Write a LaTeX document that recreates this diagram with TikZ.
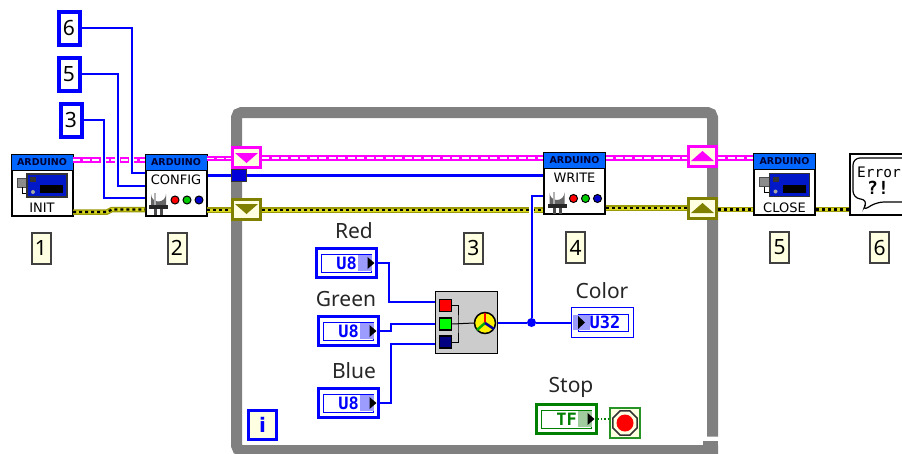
\documentclass[tikz,border=0pt]{standalone}
\usepackage{fontspec}
\setmainfont{Noto Sans}
\newfontfamily\vifont{DejaVu Sans}
\newfontfamily\monofont{DejaVu Sans Mono}
\usetikzlibrary{calc,shapes.geometric}

\definecolor{loopgray}{HTML}{808080}
\definecolor{cream}{HTML}{FFFFE1}
\definecolor{errolive}{HTML}{808000}
\definecolor{erryellow}{HTML}{D8D820}
\definecolor{headblue}{HTML}{0066FF}
\definecolor{boardblue}{HTML}{0018C8}
\definecolor{shadeblue}{HTML}{9C9CFF}
\definecolor{shadegreen}{HTML}{A0CCA0}
\definecolor{boolgreen}{HTML}{008000}
\definecolor{clusterpink}{HTML}{FF00FF}
\definecolor{wireblue}{HTML}{0000FF}

\tikzstyle{vibox}= [rectangle,draw=black,line width=2pt,fill=white,minimum width=61pt,minimum height=61pt,inner sep=0pt]
\tikzstyle{vihead}= [rectangle,draw=black,line width=1pt,fill=headblue,minimum width=62pt,minimum height=16pt,inner sep=0pt,text=black!80!blue,font={\vifont\bfseries\fontsize{9.5}{10}\selectfont}]
\tikzstyle{vilabel}= [inner sep=0pt,text=black,font={\vifont\fontsize{13}{14}\selectfont}]
\tikzstyle{number}= [rectangle,draw=black!75,line width=2pt,fill=cream,minimum width=19pt,minimum height=31pt,inner sep=0pt,font=\fontsize{21}{24}\selectfont]
\tikzstyle{constant}= [rectangle,draw=wireblue,line width=4pt,fill=white,minimum width=21pt,minimum height=33pt,inner sep=0pt,font=\fontsize{21}{24}\selectfont]
\tikzstyle{title}= [inner sep=0pt,text=black!85,font=\fontsize{21}{24}\selectfont]
\tikzstyle{pinkreg}= [rectangle,draw=clusterpink,line width=3pt,fill=cream,minimum width=28pt,minimum height=20pt,inner sep=0pt]
\tikzstyle{olivereg}= [rectangle,draw=errolive,line width=3pt,fill=cream,minimum width=28pt,minimum height=20pt,inner sep=0pt]
\tikzstyle{wire}= [wireblue,line width=2pt,preaction={draw,white,line width=5.5pt}]
\tikzstyle{busw}= [wireblue,line width=3pt]
\tikzstyle{pinkw}= [clusterpink,line width=5.5pt,postaction={draw,white,line width=1.8pt,dash pattern=on 7pt off 2.5pt}]
\tikzstyle{errw}= [errolive!70!erryellow,line width=5.5pt,postaction={draw,erryellow,line width=3pt},postaction={draw,black,line width=2.4pt,dash pattern=on 3pt off 3pt}]
\tikzstyle{swatch}= [rectangle,draw=black,line width=1.5pt,minimum width=12pt,minimum height=12pt,inner sep=0pt]

\tikzset{
	control/.style 2 args={rectangle,draw=#1,line width=3pt,fill=white,minimum width=60pt,minimum height=29pt,inner sep=0pt,text=#1,
		font={\monofont\bfseries\fontsize{17}{18}\selectfont},
		path picture={
			\draw[#1,line width=1pt] ([shift={(-25,-9)}]path picture bounding box.center) rectangle ([shift={(25,9)}]path picture bounding box.center);
			\fill[#2] ([shift={(11,-8)}]path picture bounding box.center) rectangle ([shift={(25,8)}]path picture bounding box.center);
			\fill[black] ([shift={(21,-6)}]path picture bounding box.center) -- ([shift={(28,0)}]path picture bounding box.center) -- ([shift={(21,6)}]path picture bounding box.center) -- cycle;
		}},
}

% header strip of an Arduino block
\newcommand{\vihead}[1]{\node (#1head) at ($(#1.north)+(0,8.5)$) [vihead] {ARDUINO};}
% board picture, around a block centre
\newcommand{\boardicon}[1]{
	\begin{scope}[shift={(#1.center)}]
		\draw[black!70,fill=black!45,line width=1pt] (-25,-7) rectangle (-15,2);
		\draw[black,line width=1pt] (-20,2) -- (-20,8) -- (-15,8);
		\draw[black!80,fill=boardblue,line width=1.5pt] (-15,-11) rectangle (25,12);
		\fill[black] (-2,0) rectangle (21,8);
		\fill[black!80] (-12,-8) rectangle (-6,-3);
		\fill[black!35] (-9,7) circle (2);
	\end{scope}}
% lamp and three dots, around a block centre
\newcommand{\ledicon}[1]{
	\begin{scope}[shift={(#1.center)}]
		\fill[black!60] (-25,22) -- (-25,9) arc[start angle=180,end angle=0,radius=7.5] -- (-10,22) -- cycle;
		\fill[black!30] (-22,20) rectangle (-20,8);
		\fill[black!85] (-27,20) rectangle (-8,24);
		\fill[black!70] (-22,24) rectangle (-19,30);
		\fill[black!70] (-16,24) rectangle (-13,30);
		\draw[black,fill=red,line width=1pt] (-1,15) circle (4);
		\draw[black,fill=green!80!black,line width=1pt] (11,15) circle (4);
		\draw[black,fill=wireblue!80!black,line width=1pt] (23,15) circle (4);
	\end{scope}}

\begin{document}
\begin{tikzpicture}[x=1pt,y=-1pt]
		\useasboundingbox (0,0) rectangle (902,453);
		\clip (0,0) rectangle (902,453);

		% loop frame
		\draw[loopgray,line width=11pt,rounded corners=5pt] (712.5,436.5) -- (712.5,112.5) -- (236.5,112.5) -- (236.5,450.5) -- (718,450.5);
		\fill[loopgray] (703,441) rectangle (718,446);

		% blocks
		\node (init) at (42,185) [vibox] {};
		\node (config) at (176,185) [vibox] {};
		\node (write) at (574.5,183.5) [vibox] {};
		\node (close) at (784.5,184.5) [vibox] {};
		\node (error) at (880.5,184.5) [vibox] {};
		\vihead{init}
		\vihead{config}
		\vihead{write}
		\vihead{close}
		\boardicon{init}
		\boardicon{close}
		\ledicon{config}
		\ledicon{write}
		\node (initl) at (42,208) [vilabel] {INIT};
		\node (configl) at (176,180) [vilabel] {CONFIG};
		\node (writel) at (574.5,178) [vilabel] {WRITE};
		\node (closel) at (784.5,208) [vilabel] {CLOSE};

		% speech bubble of the error block
		\draw[black,line width=1.2pt,rounded corners=7pt] (862,211) -- (868,200) -- (853,198) -- (853,158) -- (915,158) -- (915,202) -- (877,202) -- cycle;
		\node (errort) at (879,172) [inner sep=0pt,font={\monofont\fontsize{14.5}{16}\selectfont}] {Error};
		\node (errorq) at (878,188) [inner sep=0pt,font={\monofont\bfseries\fontsize{18}{19}\selectfont}] {?!};

		% constants
		\node (k6) at (69,28) [constant] {6};
		\node (k5) at (69,74) [constant] {5};
		\node (k3) at (71,120) [constant] {3};

		% shift registers and tunnel
		\node (pinkl) at (246.5,157) [pinkreg] {};
		\node (olivel) at (246.5,209) [olivereg] {};
		\node (pinkr) at (702.5,156.5) [pinkreg] {};
		\node (oliver) at (702.5,208.5) [olivereg] {};
		\fill[clusterpink] (235,153) -- (258,153) -- (246.5,163) -- cycle;
		\fill[errolive] (235,204) -- (258,204) -- (246.5,214) -- cycle;
		\fill[clusterpink] (691,161) -- (714,161) -- (702.5,151) -- cycle;
		\fill[errolive] (691,213) -- (714,213) -- (702.5,203) -- cycle;
		\node (tunnel) at (239,175.5) [rectangle,draw=black!80,fill=wireblue!85!black,line width=1pt,minimum width=15pt,minimum height=12pt,inner sep=0pt] {};

		% numbered tags
		\node (n1) at (41,248) [number] {1};
		\node (n2) at (177,248) [number] {2};
		\node (n3) at (473.5,248) [number] {3};
		\node (n4) at (575.5,247.5) [number] {4};
		\node (n5) at (779.5,247.5) [number] {5};
		\node (n6) at (879.5,247.5) [number] {6};

		% front panel terminals
		\node (redt) at (354,231) [title] {Red};
		\node (greent) at (346,299) [title] {Green};
		\node (bluet) at (354,371) [title] {Blue};
		\node (colort) at (602,291) [title] {Color};
		\node (stopt) at (571,387) [title] {Stop};
		\node (red) at (346.5,263) [control={wireblue}{shadeblue}] {U8};
		\node (green) at (348.5,331) [control={wireblue}{shadeblue}] {U8};
		\node (blue) at (348.5,403) [control={wireblue}{shadeblue}] {U8};
		\node (stop) at (566.5,419) [control={boolgreen}{shadegreen}] {TF};

		% indicator, arrow on its left
		\node (color) at (602.5,322.5) [rectangle,draw=wireblue,line width=1.5pt,fill=white,minimum width=62pt,minimum height=30pt,inner sep=0pt] {};
		\draw[wireblue,line width=1pt] (578,314) rectangle (628,331);
		\fill[shadeblue] (573,315) rectangle (590,330);
		\fill[black] (578,316) -- (585,322.5) -- (578,329) -- cycle;
		\node (colorv) at (605,322.5) [inner sep=0pt,text=wireblue,font={\monofont\bfseries\fontsize{17}{18}\selectfont}] {U32};

		% stop terminal
		\node (halt) at (625,423) [rectangle,draw=boolgreen!85,line width=2pt,fill=cream,minimum width=30pt,minimum height=30pt,inner sep=0pt] {};
		\node (halto) at (625,423) [regular polygon,regular polygon sides=8,draw=black!80,line width=1.5pt,fill=cream,minimum size=26pt,inner sep=0pt] {};
		\node (haltr) at (625,423) [circle,fill=red,minimum size=17pt,inner sep=0pt] {};

		% iteration terminal
		\node (iter) at (262.5,425) [rectangle,draw=wireblue,line width=3pt,fill=cream,minimum width=28pt,minimum height=29pt,inner sep=0pt,text=wireblue,font={\vifont\bfseries\fontsize{20}{22}\selectfont}] {i};

		% colour merge block
		\node (merge) at (466.5,322.5) [rectangle,draw=black,line width=1.5pt,fill=black!20,minimum width=62pt,minimum height=62pt,inner sep=0pt] {};
		\node (mr) at (445.5,305.5) [swatch,fill=red] {};
		\node (mg) at (445.5,324) [swatch,fill=green] {};
		\node (mb) at (445.5,342) [swatch,fill=wireblue!50!black] {};
		\node (wheel) at (485,323) [circle,draw=black,line width=1.5pt,fill=yellow,minimum size=21pt,inner sep=0pt] {};
		\coordinate (mj) at (458,324);
		\draw[black,line width=1pt] (mr.east) -| (mj) |- (mb.east);
		\draw[black,line width=1pt] (mg.east) -- (wheel.west);
		\draw[red,line width=2.5pt] (wheel.center) -- ++(0,-10);
		\draw[green!70!black,line width=2.5pt] (wheel.center) -- ++(-8,7);
		\draw[wireblue!60!black,line width=2.5pt] (wheel.center) -- ++(9,6);

		% pins
		\coordinate (pin6) at (145,173);
		\coordinate (pin5) at (145,186);
		\coordinate (pin3) at (145,198);
		\coordinate (pinw) at (543,196);
		\coordinate (pinm1) at (435,301.5);
		\coordinate (pinm2) at (435,324);
		\coordinate (pinm3) at (435,344);
		\node (jn) at (531.5,322.5) [circle,fill=wireblue,minimum size=9pt,inner sep=0pt] {};

		% pink cluster
		\draw[pinkw] (73,160) -- (145,160);
		\draw[pinkw] (207,158.5) -- (231,158.5);
		\draw[pinkw] (262,158) -- (543,158);
		\draw[pinkw] (606,158) -- (687,158);
		\draw[pinkw] (718,158) -- (753,158);

		% error cluster
		\draw[errw] (73,212) -- (107,212) -- (112,209.5) -- (145,209.5);
		\draw[errw] (207,210) -- (231,210);
		\draw[errw] (262,210) -- (543,210);
		\draw[errw] (606,208) -- (687,208);
		\draw[errw] (718,209.5) -- (753,209.5);
		\draw[errw] (816,209.5) -- (849,209.5);

		% numeric wires
		\draw[wire] (k6.east) -- ++(50,0) |- (pin6);
		\draw[wire] (k5.east) -- ++(36,0) |- (pin5);
		\draw[wire] (k3.east) -- ++(20,0) |- (pin3);
		\draw[wire] (red.east) -- ++(11,0) |- (pinm1);
		\draw[wire] (green.east) -- ++(11,0) |- (pinm2);
		\draw[wire] (blue.east) -- ++(11,0) |- (pinm3);
		\draw[wireblue,line width=2pt] (merge.east) -- (jn);
		\draw[wireblue,line width=2pt] (jn) -- (color.west);
		\draw[wire] (jn) |- (pinw);
		\draw[busw] (config.east |- tunnel) -- (tunnel);
		\draw[busw] (tunnel.east) -- (write.west |- tunnel);
		\draw[boolgreen,line width=1.2pt,dotted] (stop.east) -- (halt.west |- stop);
\end{tikzpicture}
\end{document}
